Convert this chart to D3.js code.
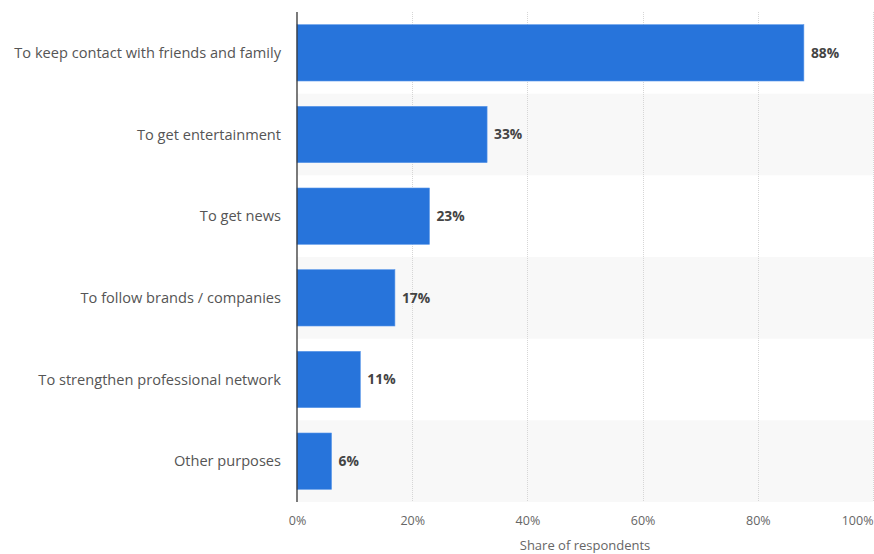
<!DOCTYPE html>
<html>
<head>
<meta charset="utf-8">
<script src="https://cdn.jsdelivr.net/npm/d3@7"></script>
<style>
  html, body { margin: 0; padding: 0; background: #fff; }
  svg { display: block; font-family: "Open Sans", "DejaVu Sans", sans-serif; }
</style>
</head>
<body>
<svg id="chart" width="874" height="554"></svg>
<script>
// Reasons for using social media
const categories = [
  "To keep contact with friends and family",
  "To get entertainment",
  "To get news",
  "To follow brands / companies",
  "To strengthen professional network",
  "Other purposes"
];
const shares = [88, 33, 23, 17, 11, 6];
const tickValues = [0, 20, 40, 60, 80, 100];
const axisTitle = "Share of respondents";

const margin = { top: 12, right: 1, bottom: 52, left: 297 };
const width = 874, height = 554;
const svg = d3.select("#chart");

const x = d3.scaleLinear().domain([0, 100]).range([margin.left, width - margin.right]);
const y = d3.scaleBand().domain(categories).range([margin.top, height - margin.bottom]).paddingInner(0).paddingOuter(0);
const barPad = 0.31;

// alternating row shading
svg.append("g").selectAll("rect")
  .data(categories.filter((d, i) => i % 2 === 1))
  .join("rect")
  .attr("x", x(0))
  .attr("y", d => y(d))
  .attr("width", x(100) - x(0))
  .attr("height", y.bandwidth())
  .attr("fill", "#f8f8f8");

// dotted vertical gridlines
svg.append("g").selectAll("line")
  .data(tickValues.filter(t => t > 0))
  .join("line")
  .attr("x1", d => Math.round(x(d)) + 0.5)
  .attr("x2", d => Math.round(x(d)) + 0.5)
  .attr("y1", margin.top)
  .attr("y2", height - margin.bottom)
  .attr("stroke", "#d6d6d6")
  .attr("stroke-width", 1)
  .attr("stroke-dasharray", "1,1");

// bars
const bh = y.bandwidth() * (1 - barPad);
svg.append("g").selectAll("rect")
  .data(categories)
  .join("rect")
  .attr("x", x(0))
  .attr("y", d => y(d) + (y.bandwidth() - bh) / 2)
  .attr("width", (d, i) => x(shares[i]) - x(0))
  .attr("height", bh)
  .attr("fill", "#2774db")
  .attr("stroke", "#5b98ea")
  .attr("stroke-width", 0.6);

// value labels
svg.append("g").selectAll("text")
  .data(categories)
  .join("text")
  .attr("x", (d, i) => x(shares[i]) + 7)
  .attr("y", d => y(d) + y.bandwidth() / 2)
  .attr("dy", "0.35em")
  .attr("font-size", 13.8)
  .attr("font-weight", "bold")
  .attr("fill", "#444")
  .text((d, i) => shares[i] + "%");

// category labels
svg.append("g").selectAll("text")
  .data(categories)
  .join("text")
  .attr("x", margin.left - 16)
  .attr("y", d => y(d) + y.bandwidth() / 2)
  .attr("dy", "0.35em")
  .attr("text-anchor", "end")
  .attr("font-size", 14.6)
  .attr("fill", "#555")
  .text(d => d);

// bottom axis tick labels
const xAxis = d3.axisBottom(x).tickValues(tickValues).tickSize(0).tickPadding(14).tickFormat(d => d + "%");
const gx = svg.append("g")
  .attr("transform", `translate(0,${height - margin.bottom})`)
  .call(xAxis);
gx.select(".domain").remove();
gx.selectAll("text")
  .attr("font-family", "\"Open Sans\", sans-serif")
  .attr("font-size", 12.5)
  .attr("fill", "#666")
  .attr("text-anchor", (d, i) => i === tickValues.length - 1 ? "end" : "middle");

// axis title
svg.append("text")
  .attr("x", (x(0) + x(100)) / 2)
  .attr("y", 550)
  .attr("text-anchor", "middle")
  .attr("font-size", 13)
  .attr("fill", "#666")
  .text(axisTitle);

// vertical baseline
svg.append("line")
  .attr("x1", x(0)).attr("x2", x(0))
  .attr("y1", margin.top).attr("y2", height - margin.bottom)
  .attr("stroke", "#333")
  .attr("stroke-width", 1.3);
</script>
</body>
</html>
